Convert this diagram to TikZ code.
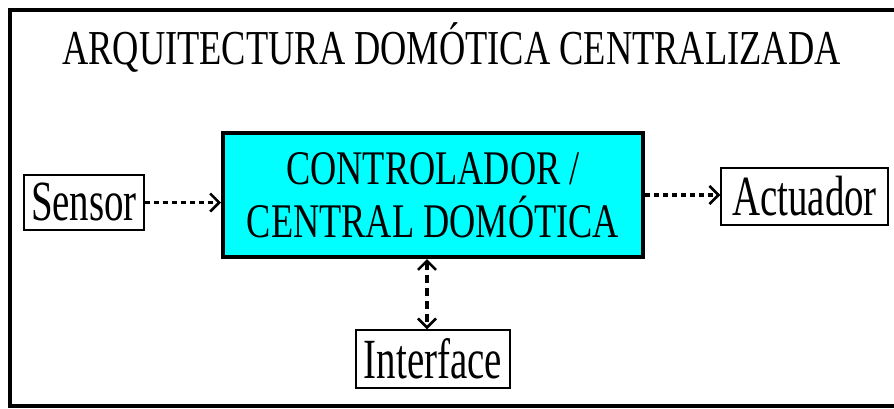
\documentclass[tikz,border=0pt]{standalone}
\usepackage{fontspec}
\setmainfont{Liberation Serif}
\usetikzlibrary{arrows.meta}
\definecolor{boxcyan}{HTML}{00FFFF}
\begin{document}
\begin{tikzpicture}[x=1pt,y=-1pt,
  lbl/.style={draw, line width=1.4pt, inner sep=0pt, anchor=base,
    font=\fontsize{38.9}{40}\selectfont},
  tip/.style={Straight Barb[length=9pt,width=18pt,line width=2.6pt]},
  conn/.style={line width=3.2pt, dash pattern=on 5pt off 4pt, -{Straight Barb[length=9pt,width=18pt,line width=2.6pt]}},
  vconn/.style={line width=3.2pt, dash pattern=on 8pt off 5pt,
    {Straight Barb[length=9pt,width=18pt,line width=2.6pt]}-{Straight Barb[length=9pt,width=18pt,line width=2.6pt]}},
]
\useasboundingbox (0,0) rectangle (894,408);
\begin{scope}
\clip (0,0) rectangle (894,408);
\draw[line width=4pt] (10,10) rectangle (910,406);
\end{scope}
\node[anchor=base, inner sep=0pt, font=\fontsize{36.4}{40}\selectfont] (title) at (451.5,64)
  {\scalebox{1}[1.34]{ARQUITECTURA DOMÓTICA CENTRALIZADA}};
\node[draw, line width=4pt, fill=boxcyan, minimum width=420pt, minimum height=124pt, inner sep=0pt] (main) at (433,195) {};
\node[align=center, inner sep=0pt, font=\fontsize{36.3}{53}\selectfont] (maintext) at (main.center)
  {\scalebox{1}[1.33]{CONTROLADOR /}\\\scalebox{1}[1.33]{CENTRAL DOMÓTICA}};
\node[lbl, minimum width=120pt, text height=45pt, text depth=10pt] (sensor) at (84,220)
  {\scalebox{1}[1.46]{Sensor}};
\node[lbl, minimum width=167pt, text height=47pt, text depth=10pt] (act) at (804.5,215)
  {\scalebox{1}[1.46]{Actuador}};
\node[lbl, minimum width=154pt, text height=48pt, text depth=10pt] (iface) at (433,378)
  {\scalebox{1}[1.46]{Interface}};
\draw[conn] (sensor.east) -- (sensor.east -| main.west);
\draw[conn] (main.east) -- (main.east -| act.west);
\coordinate (ifacetop) at ([xshift=-6pt]iface.north);
\draw[vconn] (ifacetop |- main.south) -- (ifacetop);
\end{tikzpicture}
\end{document}
